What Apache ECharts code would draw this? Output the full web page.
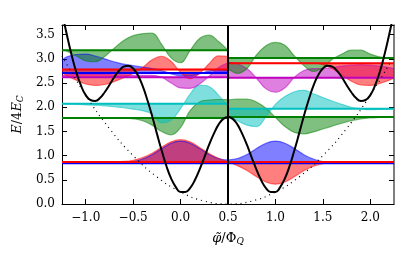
<!DOCTYPE html>
<html><head><meta charset="utf-8">
<script src="https://cdn.jsdelivr.net/npm/echarts@6/dist/echarts.min.js"></script>
<style>html,body{margin:0;padding:0;background:#fff}#c{width:415px;height:256px}</style>
</head><body><div id="c"></div>
<script>
// ---- data ----
const xTicks = [-1.0,-0.5,0.0,0.5,1.0,1.5,2.0];
const yTicks = [0.0,0.5,1.0,1.5,2.0,2.5,3.0,3.5];

const potX = [-1.25,-1.2,-1.15,-1.1,-1.05,-1.0,-0.95,-0.9,-0.85,-0.8,-0.75,-0.7,-0.65,-0.6,-0.55,-0.5,-0.45,-0.4,-0.35,-0.3,-0.25,-0.2,-0.15,-0.1,-0.05,0,0.05,0.1,0.15,0.2,0.25,0.3,0.35,0.4,0.45,0.5,0.55,0.6,0.65,0.7,0.75,0.8,0.85,0.9,0.95,1.0,1.05,1.1,1.15,1.2,1.25,1.3,1.35,1.4,1.45,1.5,1.55,1.6,1.65,1.7,1.75,1.8,1.85,1.9,1.95,2.0,2.05,2.1,2.15,2.2,2.25];
const potY = [3.96,3.51,3.09,2.73,2.45,2.25,2.15,2.13,2.19,2.31,2.46,2.62,2.75,2.84,2.86,2.80,2.66,2.44,2.15,1.82,1.46,1.11,0.79,0.53,0.35,0.25,0.25,0.33,0.49,0.71,0.96,1.22,1.45,1.64,1.76,1.80,1.76,1.64,1.45,1.22,0.96,0.71,0.49,0.33,0.25,0.25,0.35,0.53,0.79,1.11,1.46,1.82,2.15,2.44,2.66,2.80,2.86,2.84,2.75,2.62,2.46,2.31,2.19,2.13,2.15,2.25,2.45,2.73,3.09,3.51,3.96];

const parX = [-1.25,-1.0,-0.75,-0.5,-0.25,0,0.25,0.5,0.75,1.0,1.25,1.5,1.75,2.0,2.25];
const parY = [3.06,2.25,1.56,1.0,0.56,0.25,0.06,0,0.06,0.25,0.56,1.0,1.56,2.25,3.06];

const divider = [0.5];

const xLeft  = [-1.25,-1.2,-1.1,-1.0,-0.9,-0.8,-0.7,-0.6,-0.5,-0.4,-0.3,-0.2,-0.1,0,0.1,0.2,0.3,0.4,0.5];
const xRight = [0.5,0.6,0.7,0.8,0.9,1.0,1.1,1.2,1.3,1.4,1.5,1.6,1.7,1.8,1.9,2.0,2.1,2.2,2.25];

// left half states
const levelsLeft = [0.84,0.87,1.78,2.07,2.62,2.71,2.78,3.18];
const colorsLeft = ['blue','red','green','cyan','magenta','blue','red','green'];
const blueL1  = [0.84,0.84,0.84,0.84,0.84,0.84,0.843,0.85,0.875,0.93,1.02,1.14,1.255,1.30,1.255,1.145,1.025,0.94,0.91];
const redL1   = [0.87,0.87,0.87,0.87,0.87,0.87,0.873,0.88,0.905,0.96,1.05,1.175,1.285,1.33,1.285,1.17,1.045,0.945,0.87];
const greenL1 = [1.78,1.78,1.78,1.78,1.78,1.78,1.78,1.775,1.76,1.72,1.63,1.50,1.43,1.58,1.93,2.11,2.15,2.16,2.16];
const cyanL1  = [2.07,2.065,2.06,2.05,2.04,2.03,2.01,1.99,1.96,1.93,1.86,1.68,1.73,1.97,2.27,2.46,2.43,2.25,2.02];
const magL    = [2.66,2.67,2.68,2.68,2.68,2.68,2.67,2.67,2.66,2.66,2.66,2.62,2.50,2.40,2.39,2.48,2.64,2.82,2.92];
const blueL2  = [2.97,3.04,3.09,3.10,3.06,3.00,2.94,2.89,2.86,2.83,2.80,2.76,2.69,2.65,2.65,2.69,2.75,2.78,2.76];
const redL2   = [2.72,2.65,2.56,2.48,2.45,2.47,2.53,2.61,2.70,2.82,2.98,3.05,2.95,2.72,2.59,2.70,2.90,3.06,3.05];
const greenL2 = [3.18,3.16,3.06,2.96,2.94,3.05,3.22,3.38,3.48,3.52,3.53,3.30,3.02,2.92,3.17,3.42,3.49,3.36,3.18];

// right half states
const levelsRight = [0.84,0.87,1.80,1.97,2.61,2.91,3.02];
const colorsRight = ['blue','red','green','cyan','magenta','red','green'];
const blueR1  = [0.91,0.94,1.02,1.145,1.255,1.30,1.255,1.145,1.02,0.93,0.875,0.85,0.843,0.84,0.84,0.84,0.84,0.84,0.84];
const redR1   = [0.87,0.793,0.693,0.566,0.455,0.41,0.455,0.566,0.69,0.78,0.835,0.86,0.867,0.87,0.87,0.87,0.87,0.87,0.87];
const greenR1 = [2.15,2.17,2.17,2.11,1.98,1.79,1.60,1.48,1.45,1.49,1.55,1.61,1.67,1.72,1.76,1.78,1.79,1.80,1.80];
const cyanR1  = [1.83,1.72,1.63,1.60,1.80,2.06,2.22,2.32,2.35,2.28,2.20,2.13,2.06,2.00,1.97,1.95,1.955,1.965,1.97];
const magR    = [2.93,2.90,2.80,2.60,2.38,2.31,2.40,2.62,2.76,2.80,2.80,2.82,2.85,2.87,2.88,2.87,2.85,2.82,2.80];
const redR2   = [2.91,2.91,2.91,2.91,2.91,2.91,2.91,2.91,2.91,2.91,2.88,2.80,2.66,2.54,2.46,2.45,2.49,2.56,2.60];
const greenR2 = [2.80,2.70,2.80,3.08,3.27,3.34,3.28,3.06,2.86,2.74,2.82,2.99,3.10,3.18,3.18,3.10,3.04,3.01,3.00];

const wavesLeft  = [blueL1, redL1, greenL1, cyanL1, magL, blueL2, redL2, greenL2];
const wavesRight = [blueR1, redR1, greenR1, cyanR1, magR, redR2, greenR2];

// ---- styling ----
const palette = {
  blue:    ['#0000ff','rgba(0,0,255,0.5)'],
  red:     ['#ff0000','rgba(255,0,0,0.5)'],
  green:   ['#008000','rgba(0,128,0,0.5)'],
  cyan:    ['#00bfbf','rgba(0,191,191,0.5)'],
  magenta: ['#bf00bf','rgba(191,0,191,0.5)']
};
const zip = (xs, ys) => xs.map((x, i) => [x, ys[i]]);
const series = [];
function addHalf(xs, waves, levels, colors) {
  waves.forEach((ys, i) => {
    const c = palette[colors[i]];
    series.push({
      type: 'line', data: zip(xs, ys), smooth: 0.4, symbol: 'none', z: 2,
      lineStyle: { color: c[1], width: 1.2 },
      areaStyle: { color: c[1], origin: levels[i], opacity: 1 },
      silent: true
    });
  });
  levels.forEach((lv, i) => {
    const c = palette[colors[i]];
    series.push({
      type: 'line', data: [[xs[0], lv], [xs[xs.length - 1], lv]], symbol: 'none', z: 3,
      lineStyle: { color: c[0], width: 2 }, silent: true
    });
  });
}
addHalf(xLeft, wavesLeft, levelsLeft, colorsLeft);
addHalf(xRight, wavesRight, levelsRight, colorsRight);

series.push({
  type: 'line', data: zip(parX, parY), smooth: true, symbol: 'none', z: 4,
  lineStyle: { color: '#000', width: 1.2, type: [1, 4] }
});
series.push({
  type: 'line', data: zip(potX, potY), smooth: true, symbol: 'none', z: 5,
  lineStyle: { color: '#000', width: 2 }
});
series.push({
  type: 'line', data: [[divider[0], 0], [divider[0], 3.7]], symbol: 'none', z: 5,
  lineStyle: { color: '#000', width: 2 }
});

const font = 'DejaVu Serif';
const fmt = v => v.toFixed(1).replace('-', '\u2212');
const axisCommon = {
  type: 'value', splitLine: { show: false },
  axisLine: { show: true, onZero: false, lineStyle: { color: '#000', width: 1 } }
};

const chart = echarts.init(document.getElementById('c'), null, { renderer: 'canvas' });
chart.setOption({
  animation: false,
  grid: { left: 62, top: 25, right: 21, bottom: 52 },
  xAxis: [
    Object.assign({}, axisCommon, {
      min: -1.25, max: 2.25, position: 'bottom',
      axisTick: { show: true, inside: true, length: 5, customValues: xTicks, lineStyle: { color: '#000' } },
      axisLabel: { customValues: xTicks, formatter: fmt, fontFamily: font, fontSize: 12, color: '#000', margin: 8 },
      name: '{i|φ\u0303}/Φ{s|Q}', nameLocation: 'middle', nameGap: 27,
      nameTextStyle: { fontFamily: font, fontSize: 13, color: '#000',
        rich: { i: { fontFamily: font, fontStyle: 'italic', fontSize: 13 }, s: { fontFamily: font, fontStyle: 'italic', fontSize: 9, verticalAlign: 'bottom', padding: [6, 0, 0, 0] } } }
    }),
    Object.assign({}, axisCommon, {
      min: -1.25, max: 2.25, position: 'top',
      axisTick: { show: true, inside: true, length: 5, customValues: xTicks, lineStyle: { color: '#000' } },
      axisLabel: { show: false }
    })
  ],
  yAxis: [
    Object.assign({}, axisCommon, {
      min: 0, max: 3.7, position: 'left',
      axisTick: { show: true, inside: true, length: 5, customValues: yTicks, lineStyle: { color: '#000' } },
      axisLabel: { customValues: yTicks, formatter: fmt, fontFamily: font, fontSize: 12, color: '#000', margin: 7 },
      name: '{i|E}/4{i|E}{s|C}', nameLocation: 'middle', nameGap: 36, nameRotate: 90,
      nameTextStyle: { fontFamily: font, fontSize: 13, color: '#000',
        rich: { i: { fontFamily: font, fontStyle: 'italic', fontSize: 13 }, s: { fontFamily: font, fontStyle: 'italic', fontSize: 9, verticalAlign: 'bottom', padding: [6, 0, 0, 0] } } }
    }),
    Object.assign({}, axisCommon, {
      min: 0, max: 3.7, position: 'right',
      axisLine: { show: true, onZero: false, lineStyle: { color: '#555', width: 1.5 } },
      axisTick: { show: true, inside: true, length: 5, customValues: yTicks, lineStyle: { color: '#000' } },
      axisLabel: { show: false }
    })
  ],
  series: series
});
</script>
</body></html>
